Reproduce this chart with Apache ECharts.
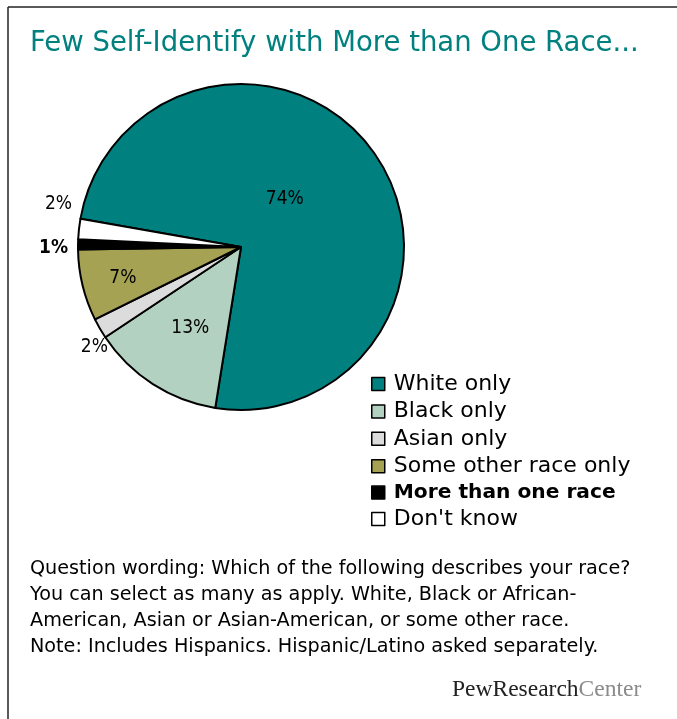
<!DOCTYPE html>
<html>
<head>
<meta charset="utf-8">
<script src="https://cdn.jsdelivr.net/npm/echarts@6/dist/echarts.min.js"></script>
<style>
  html, body { margin: 0; padding: 0; background: #fff; }
  #main { width: 677px; height: 719px; }
</style>
</head>
<body>
<div id="main"></div>
<script>
// data
var categories = ['White only', 'Black only', 'Asian only', 'Some other race only', 'More than one race', "Don't know"];
var shares = [74, 13, 2, 7, 1, 2];
var sliceColors = ['#00807f', '#b3d1c1', '#dcdcdc', '#a6a254', '#000000', '#ffffff'];

var noteLines = [
  'Question wording: Which of the following describes your race?',
  'You can select as many as apply. White, Black or African-',
  'American, Asian or Asian-American, or some other race.',
  'Note: Includes Hispanics. Hispanic/Latino asked separately.'
];

var regular = '"DejaVu Sans", Verdana, sans-serif';
var condensed = '"DejaVu Sans Condensed", "DejaVu Sans"';

// label placement per slice (styling only)
var labelPos = ['inside', 'inside', 'outside', 'inside', 'outside', 'outside'];
var labelShift = [[-25, 1], [-5, 10], [20, 15], [-36, 11], [3, 4], [6, -24]];

var dom = document.getElementById('main');
var myChart = echarts.init(dom, null, { renderer: 'canvas' });

var pieData = categories.map(function (name, i) {
  return {
    name: name,
    value: shares[i],
    itemStyle: { color: sliceColors[i] },
    label: {
      position: labelPos[i],
      offset: labelShift[i],
      fontWeight: i === 4 ? 'bold' : 'normal'
    },
    labelLine: { show: false, length: 8, length2: 0 }
  };
});

var legendData = categories.map(function (name, i) {
  return i === 4
    ? { name: name, textStyle: { fontWeight: 'bold', fontSize: 20.2, padding: [1, 0, 1, 4] } }
    : { name: name };
});

var option = {
  backgroundColor: '#fff',
  animation: false,
  title: {
    text: 'Few Self-Identify with More than One Race...',
    left: 30,
    top: 30,
    padding: 0,
    textStyle: {
      color: '#00807f',
      fontSize: 27.5,
      fontWeight: 'normal',
      fontFamily: regular
    }
  },
  legend: {
    orient: 'vertical',
    left: 371,
    top: 373,
    padding: 0,
    itemWidth: 13,
    itemHeight: 13,
    itemGap: 5.4,
    icon: 'rect',
    selectedMode: false,
    data: legendData,
    itemStyle: { borderColor: '#000', borderWidth: 1.5 },
    textStyle: {
      color: '#000',
      fontSize: 22,
      padding: [0, 0, 0, 4],
      fontFamily: regular
    }
  },
  series: [
    {
      type: 'pie',
      center: [241, 247],
      radius: 163,
      startAngle: 170,
      clockwise: true,
      avoidLabelOverlap: false,
      itemStyle: { borderColor: '#000', borderWidth: 2 },
      emphasis: { disabled: true },
      label: {
        formatter: '{c}%',
        color: '#000',
        fontSize: 19,
        fontFamily: condensed
      },
      data: pieData
    }
  ],
  graphic: [
    {
      type: 'line',
      shape: { x1: 8, y1: 7, x2: 677, y2: 7 },
      style: { stroke: '#222', lineWidth: 1.5 }
    },
    {
      type: 'line',
      shape: { x1: 8, y1: 7, x2: 8, y2: 719 },
      style: { stroke: '#222', lineWidth: 1.5 }
    },
    {
      type: 'text',
      left: 30,
      top: 556,
      style: {
        text: noteLines.join('\n'),
        fill: '#000',
        fontSize: 19.2,
        lineHeight: 26,
        fontFamily: regular
      }
    },
    {
      type: 'text',
      left: 452,
      top: 678,
      style: {
        text: '{a|PewResearch}{b|Center}',
        rich: {
          a: { fill: '#222', fontSize: 23.5, fontFamily: 'Liberation Serif' },
          b: { fill: '#8a8a8a', fontSize: 23.5, fontFamily: 'Liberation Serif' }
        }
      }
    }
  ]
};

if (option && typeof option === 'object') {
  myChart.setOption(option);
}

window.addEventListener('resize', myChart.resize);
</script>
</body>
</html>
